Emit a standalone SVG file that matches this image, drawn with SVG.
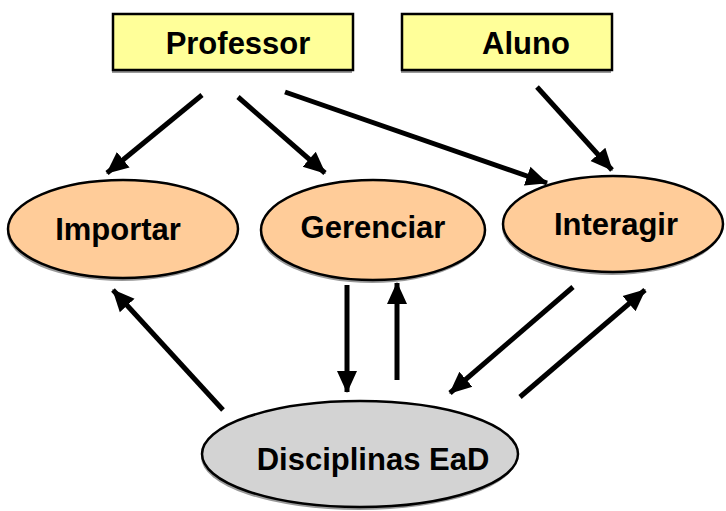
<svg xmlns="http://www.w3.org/2000/svg" width="726" height="511" viewBox="0 0 726 511">
<defs>
<marker id="ah" markerUnits="userSpaceOnUse" markerWidth="24" markerHeight="22" refX="21" refY="10" orient="auto" viewBox="0 0 24 20">
<polygon points="0,0 22,10 0,20" fill="#000"/>
</marker>
</defs>
<style>
.box{fill:#FFFF99;stroke:#000;stroke-width:2.5}
.oval{fill:#FFCC99;stroke:#000;stroke-width:2.5}
.gray{fill:#D3D3D3;stroke:#000;stroke-width:2.5}
.sh{fill:#999;stroke:none}
.t{font-family:"Liberation Sans",Arial,sans-serif;font-weight:bold;font-size:31px;fill:#000;text-anchor:middle}
.c line{stroke:#000;stroke-width:5;marker-end:url(#ah)}
</style>
<rect width="726" height="511" fill="#fff"/>
<g id="professor">
<rect class="sh" x="112" y="17" width="240" height="56"/>
<rect class="box" x="113" y="14" width="240" height="56"/>
<text class="t" x="238" y="54">Professor</text>
</g>
<g id="aluno">
<rect class="sh" x="401" y="17" width="210" height="56"/>
<rect class="box" x="402" y="14" width="210" height="56"/>
<text class="t" x="526" y="54">Aluno</text>
</g>
<g id="importar">
<ellipse class="sh" cx="122" cy="232" rx="115" ry="49"/>
<ellipse class="oval" cx="123" cy="229" rx="115" ry="49"/>
<text class="t" x="118" y="240">Importar</text>
</g>
<g id="gerenciar">
<ellipse class="sh" cx="372" cy="233" rx="112" ry="50"/>
<ellipse class="oval" cx="373" cy="230" rx="112" ry="50"/>
<text class="t" x="373" y="238">Gerenciar</text>
</g>
<g id="interagir">
<ellipse class="sh" cx="612" cy="227" rx="110" ry="48"/>
<ellipse class="oval" cx="613" cy="224" rx="110" ry="48"/>
<text class="t" x="616" y="235">Interagir</text>
</g>
<g id="disciplinas">
<ellipse class="sh" cx="359" cy="457" rx="158" ry="53"/>
<ellipse class="gray" cx="360" cy="454" rx="158" ry="53"/>
<text class="t" x="373" y="470">Disciplinas EaD</text>
</g>
<g id="connectors" class="c">
<line x1="202" y1="95" x2="107" y2="173"/>
<line x1="238" y1="97" x2="325" y2="173"/>
<line x1="285" y1="92" x2="547" y2="183"/>
<line x1="537" y1="87" x2="612" y2="170"/>
<line x1="347" y1="285" x2="347" y2="392"/>
<line x1="397" y1="380" x2="397" y2="283"/>
<line x1="573" y1="287" x2="450" y2="393"/>
<line x1="520" y1="397" x2="645" y2="290"/>
<line x1="223" y1="410" x2="113" y2="290"/>
</g>
</svg>
